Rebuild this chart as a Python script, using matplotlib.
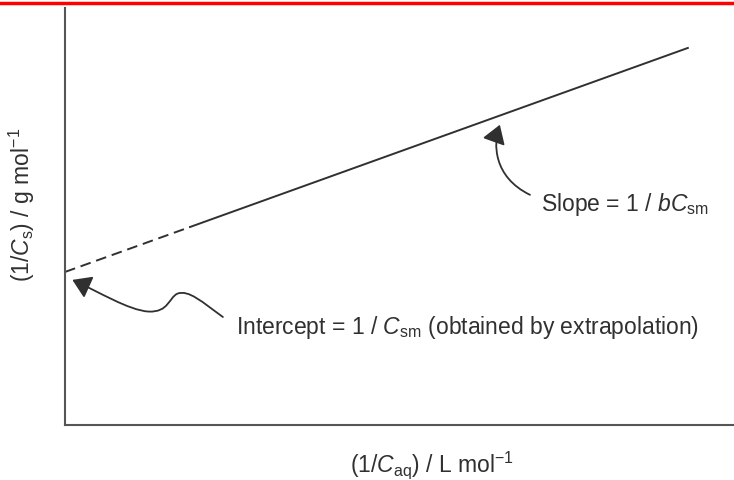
import numpy as np
import matplotlib
matplotlib.use("Agg")
import matplotlib.pyplot as plt
from matplotlib.path import Path
from matplotlib.patches import FancyArrowPatch

plt.rcParams['font.family'] = ['Liberation Sans', 'DejaVu Sans']
plt.rcParams['mathtext.fontset'] = 'custom'
plt.rcParams['mathtext.rm'] = 'Liberation Sans'
plt.rcParams['mathtext.it'] = 'Liberation Sans:italic'

# straight line 1/Cs = intercept + slope * (1/Caq)
intercept = 3.67
slope = 0.577
x_extrap_end = 1.87   # dashed part (extrapolation) up to here
x_data_end = 9.31

# annotation arrow routes (data units, cubic bezier control points)
slope_arrow = [(6.95, 5.52), (6.40, 5.95), (6.40, 6.75), (6.50, 7.20)]
intercept_arrow = [(2.36, 2.59),
                   (2.05, 2.95), (1.85, 3.25), (1.68, 3.15),
                   (1.55, 3.05), (1.55, 2.70), (1.25, 2.72),
                   (0.95, 2.75), (0.50, 3.20), (0.11, 3.48)]

ink = '#303030'

fig = plt.figure(figsize=(7.34, 4.80), dpi=100)
ax = fig.add_axes([65 / 734, 1 - 425 / 480, 669 / 734, 417 / 480])
ax.set_xlim(0, 10)
ax.set_ylim(0, 10)

xd = np.array([0, x_extrap_end])
xs = np.array([x_extrap_end, x_data_end])
ax.plot(xd, intercept + slope * xd, color=ink, lw=1.4, ls=(0, (5.5, 3)))
ax.plot(xs, intercept + slope * xs, color=ink, lw=1.4)

for s in ('top', 'right'):
    ax.spines[s].set_visible(False)
for s in ('left', 'bottom'):
    ax.spines[s].set_color('#555555')
    ax.spines[s].set_linewidth(1.5)
ax.set_xticks([])
ax.set_yticks([])

def curvy(points):
    codes = [Path.MOVETO] + [Path.CURVE4] * (len(points) - 1)
    return Path(points, codes)

arrow_kw = dict(arrowstyle='-|>,head_length=7,head_width=4.5', color=ink,
                lw=1.3, mutation_scale=1.6, transform=ax.transData,
                shrinkA=0, shrinkB=0)
ax.add_patch(FancyArrowPatch(path=curvy(slope_arrow), **arrow_kw))
ax.add_patch(FancyArrowPatch(path=curvy(intercept_arrow), **arrow_kw))

ax.text(7.12, 5.28, r'Slope = 1 / $bC_{\rm sm}$', fontsize=16.5, color=ink,
        va='center', ha='left')
ax.text(2.55, 2.33, r'Intercept = 1 / $C_{\rm sm}$ (obtained by extrapolation)',
        fontsize=16.5, color=ink, va='center', ha='left')

fig.text(432 / 734, 1 - 465 / 480, r'(1/$C_{\rm aq}$) / L mol$^{-1}$',
         fontsize=16.5, color=ink, ha='center', va='center')
fig.text(22 / 734, 1 - 205 / 480, r'(1/$C_{\rm s}$) / g mol$^{-1}$',
         fontsize=16.5, color=ink, ha='center', va='center', rotation=90)

# red rule along the top edge
fig.add_artist(plt.Line2D([0, 1], [1 - 2.5 / 480] * 2, color='red', lw=2.5,
                          transform=fig.transFigure))

fig.savefig('out.png', dpi=100)
